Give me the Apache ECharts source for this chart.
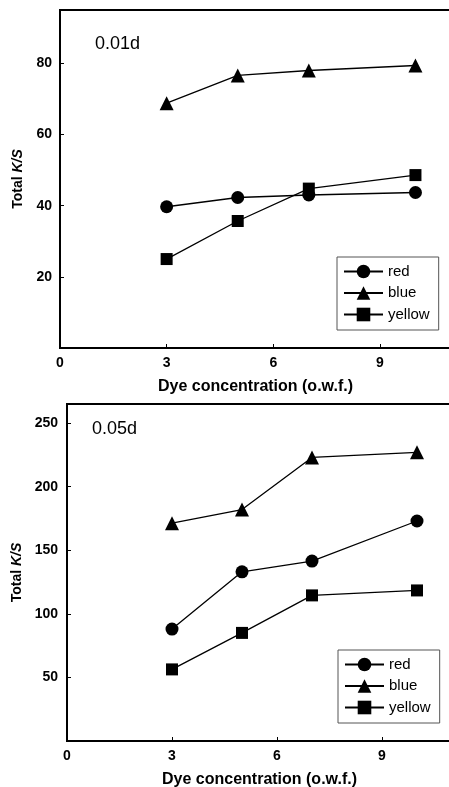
<!DOCTYPE html>
<html>
<head>
<meta charset="utf-8">
<script src="https://cdn.jsdelivr.net/npm/echarts@6/dist/echarts.min.js"></script>
<style>
    html, body { margin: 0; padding: 0; background: #fff; }
    #chart { width: 449px; height: 787px; }
</style>
</head>
<body>
<div id="chart"></div>
<script>
var conc = [3, 5, 7, 10];
var names = ['red', 'blue', 'yellow'];
var symbols = ['circle', 'triangle', 'rect'];
var symbolSizes = [13, 14, 12];

// 0.01d panel
var red01 = [39.7, 42.3, 43.0, 43.7];
var blue01 = [68.8, 76.6, 78.0, 79.4];
var yellow01 = [25.0, 35.7, 44.8, 48.6];

// 0.05d panel
var red05 = [88, 133, 141.5, 173];
var blue05 = [171.3, 182, 223, 227];
var yellow05 = [56.3, 85, 114.5, 118.4];

var fontFam = '"Liberation Sans", Arial, sans-serif';

function pairs(vals) {
    return conc.map(function (x, i) {
        return [x, vals[i]];
    });
}

function makeSeries(vals, idx, panel) {
    return {
        name: names[idx],
        type: 'line',
        xAxisIndex: panel,
        yAxisIndex: panel,
        data: pairs(vals),
        symbol: symbols[idx],
        symbolSize: symbolSizes[idx],
        showAllSymbol: true,
        itemStyle: { color: '#000' },
        lineStyle: { color: '#000', width: 1.3 },
        animation: false
    };
}

function xAxisOf(grid) {
    return {
        type: 'value',
        gridIndex: grid,
        min: 0,
        max: 11,
        interval: 3,
        axisLine: { show: true, lineStyle: { color: '#000', width: 2 } },
        axisTick: { show: true, inside: true, length: 4, lineStyle: { color: '#000', width: 1 } },
        axisLabel: {
            showMaxLabel: false,
            margin: 8,
            color: '#000',
            fontWeight: 'bold',
            fontSize: 14,
            fontFamily: fontFam
        },
        splitLine: { show: false },
        name: 'Dye concentration (o.w.f.)',
        nameLocation: 'middle',
        nameGap: 31,
        nameTextStyle: { color: '#000', fontWeight: 'bold', fontSize: 16, fontFamily: fontFam }
    };
}

function yAxisOf(grid, max, interval, gap, margin) {
    return {
        type: 'value',
        gridIndex: grid,
        min: 0,
        max: max,
        interval: interval,
        axisLine: { show: true, lineStyle: { color: '#000', width: 2 } },
        axisTick: { show: true, inside: true, length: 4, lineStyle: { color: '#000', width: 1 } },
        axisLabel: {
            showMinLabel: false,
            showMaxLabel: false,
            margin: margin,
            color: '#000',
            fontWeight: 'bold',
            fontSize: 14,
            fontFamily: fontFam
        },
        splitLine: { show: false },
        name: '{a|Total }{b|K/S}',
        nameLocation: 'middle',
        nameGap: gap,
        nameTextStyle: {
            rich: {
                a: { color: '#000', fontWeight: 'bold', fontSize: 14, fontFamily: fontFam },
                b: { color: '#000', fontWeight: 'bold', fontStyle: 'italic', fontSize: 14, fontFamily: fontFam }
            }
        }
    };
}

function legendAt(left, top) {
    return {
        left: left,
        top: top,
        orient: 'vertical',
        data: names,
        itemWidth: 39,
        itemHeight: 17,
        itemGap: 6.5,
        padding: [7, 9, 8, 6],
        borderColor: '#555',
        borderWidth: 1,
        backgroundColor: '#fff',
        selectedMode: false,
        textStyle: { color: '#000', fontSize: 15, fontFamily: fontFam }
    };
}

var myChart = echarts.init(document.getElementById('chart'));
myChart.setOption({
    backgroundColor: '#fff',
    animation: false,
    title: [
        {
            text: '0.01d',
            left: 90,
            top: 30,
            textStyle: { color: '#000', fontWeight: 'normal', fontSize: 18, fontFamily: fontFam }
        },
        {
            text: '0.05d',
            left: 87,
            top: 415,
            textStyle: { color: '#000', fontWeight: 'normal', fontSize: 18, fontFamily: fontFam }
        }
    ],
    grid: [
        { left: 60, top: 10, height: 338, width: 391, outerBoundsMode: 'none', show: true, borderColor: '#000', borderWidth: 2 },
        { left: 67, top: 404, height: 337, width: 385, outerBoundsMode: 'none', show: true, borderColor: '#000', borderWidth: 2 }
    ],
    xAxis: [xAxisOf(0), xAxisOf(1)],
    yAxis: [
        yAxisOf(0, 95, 20, 35, 8),
        yAxisOf(1, 265, 50, 41, 9)
    ],
    legend: [legendAt(337, 257), legendAt(338, 650)],
    series: [
        makeSeries(red01, 0, 0),
        makeSeries(blue01, 1, 0),
        makeSeries(yellow01, 2, 0),
        makeSeries(red05, 0, 1),
        makeSeries(blue05, 1, 1),
        makeSeries(yellow05, 2, 1)
    ]
});
</script>
</body>
</html>
